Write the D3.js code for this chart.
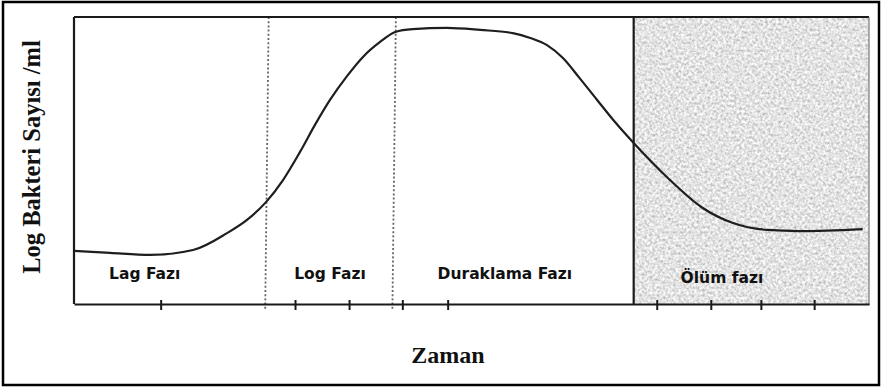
<!DOCTYPE html>
<html>
<head>
<meta charset="utf-8">
<script src="https://cdn.jsdelivr.net/npm/d3@7"></script>
<style>
  html, body { margin: 0; padding: 0; background: #fff; }
  svg { display: block; }
</style>
</head>
<body>
<svg id="chart" width="882" height="388"></svg>
<script>
// Bacterial growth curve: time (arbitrary units) vs. log cell count
const time =     [0, 4.53, 9.56, 14.97, 19.25, 21.76, 24.15, 26.29, 28.43, 30.31, 32.2, 34.34, 36.35, 38.5, 40.4, 42.6, 46.9, 51.1, 55.2, 57.4, 59.5, 61.5, 63.6, 65.8, 68.05, 70.4, 74.7, 78.9, 82.9, 87.2, 91.3, 99.2];
const logCount = [1.85, 1.78, 1.71, 1.88, 2.47, 2.93, 3.55, 4.32, 5.30, 6.24, 7.11, 7.94, 8.61, 9.13, 9.48, 9.58, 9.62, 9.55, 9.44, 9.27, 9.02, 8.57, 7.87, 7.11, 6.34, 5.61, 4.39, 3.38, 2.82, 2.58, 2.54, 2.61];

// Phase boundaries on the time axis
const phaseBounds = [24.3, 40.3];
const deathStart = 70.4;

// Phase names and where each name sits along the time axis
const phaseNames = ["Lag Fazı", "Log Fazı", "Duraklama Fazı", "Ölüm fazı"];
const phaseLabelAt = [8.9, 32.2, 54.2, 81.5];

// Tick marks along the time axis
const tickTimes = [10.9, 27.8, 34.6, 41.3, 47.0, 73.3, 80.1, 86.4, 93.1];

const xTitle = "Zaman";
const yTitle = "Log Bakteri Sayısı /ml";

const svg = d3.select("#chart");
const W = 882, H = 388;
const plot = { left: 74, right: 869, top: 17, bottom: 304 };

const x = d3.scaleLinear().domain([0, 100]).range([plot.left, plot.right]);
const y = d3.scaleLinear().domain([0, 10]).range([plot.bottom, plot.top]);

// grain texture for the death-phase panel
const defs = svg.append("defs");
const grain = defs.append("filter").attr("id", "grain")
  .attr("x", 0).attr("y", 0).attr("width", 1).attr("height", 1);
grain.append("feTurbulence").attr("type", "fractalNoise")
  .attr("baseFrequency", 0.38).attr("numOctaves", 2).attr("seed", 7).attr("result", "n");
grain.append("feColorMatrix").attr("in", "n").attr("type", "matrix")
  .attr("values", "0.9 0 0 0 0.32  0.9 0 0 0 0.32  0.9 0 0 0 0.32  0 0 0 0 1");

// outer frame
svg.append("rect")
  .attr("x", 3).attr("y", 2).attr("width", W - 6).attr("height", H - 5)
  .attr("fill", "#fff").attr("stroke", "#000").attr("stroke-width", 2.5);

// death-phase shaded panel
svg.append("rect")
  .attr("x", x(deathStart)).attr("y", plot.top)
  .attr("width", x(100) - x(deathStart)).attr("height", plot.bottom - plot.top + 1)
  .attr("fill", "#c6c6c6")
  .attr("filter", "url(#grain)");

// dotted phase dividers
svg.selectAll("line.divider").data(phaseBounds).join("line")
  .attr("class", "divider")
  .attr("x1", d => x(d) + 1.5).attr("x2", d => x(d) - 2)
  .attr("y1", plot.top).attr("y2", plot.bottom + 7)
  .attr("stroke", "#666").attr("stroke-width", 1.8)
  .attr("stroke-dasharray", "2,2.2");

// growth curve
const line = d3.line()
  .x((d, i) => x(time[i]))
  .y(d => y(d))
  .curve(d3.curveMonotoneX);
svg.append("path")
  .datum(logCount)
  .attr("d", line)
  .attr("fill", "none")
  .attr("stroke", "#1e1e1e")
  .attr("stroke-width", 2.2);

// plot frame
const frame = svg.append("g").attr("stroke", "#1a1a1a").attr("stroke-width", 2.2);
frame.append("line").attr("x1", x(0)).attr("x2", x(100)).attr("y1", plot.top).attr("y2", plot.top);
frame.append("line").attr("x1", x(0)).attr("x2", x(0)).attr("y1", plot.top).attr("y2", plot.bottom);
frame.append("line").attr("x1", x(deathStart)).attr("x2", x(deathStart)).attr("y1", plot.top).attr("y2", plot.bottom + 1);
svg.append("line").attr("x1", x(100)).attr("x2", x(100)).attr("y1", plot.top).attr("y2", plot.bottom + 1)
  .attr("stroke", "#777").attr("stroke-width", 1.2);

// time axis with short tick marks, no labels
const xAxis = d3.axisBottom(x).tickValues(tickTimes).tickSize(0).tickFormat("");
const axisG = svg.append("g").attr("transform", `translate(0,${plot.bottom})`).call(xAxis);
axisG.select(".domain").attr("stroke", "#1a1a1a").attr("stroke-width", 2.2);
axisG.selectAll(".tick line")
  .attr("y1", -4).attr("y2", 6)
  .attr("stroke", "#1a1a1a").attr("stroke-width", 2);

// phase names
svg.selectAll("text.phase").data(phaseNames).join("text")
  .attr("class", "phase")
  .attr("x", (d, i) => x(phaseLabelAt[i]))
  .attr("y", (d, i) => plot.bottom - (i === 3 ? 21 : 25))
  .attr("text-anchor", "middle")
  .attr("font-family", "'DejaVu Sans', sans-serif")
  .attr("font-weight", 700)
  .attr("font-size", 15.5)
  .attr("fill", "#111")
  .text(d => d);

// axis titles
svg.append("text")
  .attr("x", 448).attr("y", 363)
  .attr("text-anchor", "middle")
  .attr("font-family", "'Liberation Serif', 'Times New Roman', serif")
  .attr("font-weight", 700).attr("font-size", 24)
  .attr("fill", "#111")
  .text(xTitle);

svg.append("text")
  .attr("transform", "translate(40,157) rotate(-90)")
  .attr("text-anchor", "middle")
  .attr("font-family", "'Liberation Serif', 'Times New Roman', serif")
  .attr("font-weight", 700).attr("font-size", 24.5)
  .attr("fill", "#111")
  .text(yTitle);
</script>
</body>
</html>
